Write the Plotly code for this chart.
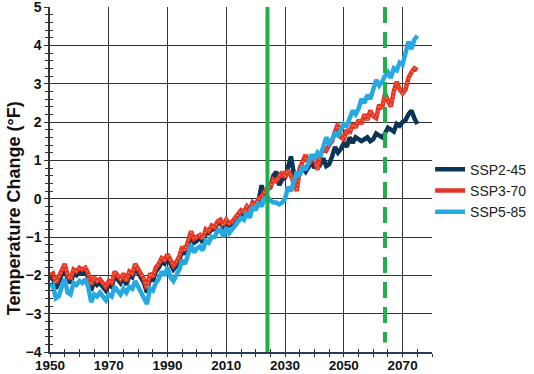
import plotly.graph_objects as go

years = list(range(1950, 2076))

ssp245 = [
    -2.1, -2.05, -2.35, -2.15, -2.0, -1.8, -2.1, -2.2, -1.95, -2.0,
    -1.9, -1.95, -1.9, -2.05, -2.4, -2.15, -2.25, -2.2, -2.3, -2.4,
    -2.25, -2.3, -2.0, -2.1, -2.2, -2.05, -2.25, -2.0, -2.05, -1.8,
    -1.95, -2.05, -2.2, -2.45, -2.05, -2.15, -1.9, -1.8, -1.65, -1.7,
    -1.55, -1.7, -1.85, -1.75, -1.6, -1.35, -1.45, -1.2, -0.95, -1.15,
    -1.1, -1.0, -1.15, -0.9, -0.9, -0.8, -0.8, -0.65, -0.6, -0.8,
    -0.6, -0.7, -0.65, -0.55, -0.45, -0.35, -0.4, -0.2, -0.35, -0.1,
    -0.15, -0.05, 0.35, -0.05, 0.25,
    0.3, 0.6, 0.7, 0.35, 0.5, 0.55, 0.8, 1.1, 0.65, 0.4,
    0.75, 0.8, 0.7, 0.85, 0.95, 0.8, 1.0, 0.9, 1.05, 0.85,
    0.9, 1.1, 1.35, 1.2, 1.3, 1.45, 1.35, 1.6, 1.45, 1.6,
    1.55, 1.5, 1.55, 1.6, 1.5, 1.55, 1.7, 1.65, 1.6, 1.7,
    1.85, 1.8, 1.75, 1.95, 1.9, 2.0, 2.05, 2.2, 2.3, 2.1, 1.95,
]

ssp370 = [
    -2.0, -1.95, -2.2, -2.05, -1.9, -1.7, -2.0, -2.1, -1.85, -1.9,
    -1.8, -1.85, -1.8, -1.95, -2.25, -2.05, -2.15, -2.1, -2.2, -2.3,
    -2.15, -2.2, -1.9, -2.0, -2.1, -1.95, -2.15, -1.9, -1.95, -1.7,
    -1.85, -1.95, -2.1, -2.35, -1.95, -2.05, -1.8, -1.7, -1.55, -1.6,
    -1.45, -1.6, -1.75, -1.65, -1.5, -1.25, -1.35, -1.1, -0.85, -1.05,
    -1.0, -0.95, -1.05, -0.8, -0.85, -0.7, -0.75, -0.6, -0.55, -0.7,
    -0.55, -0.65, -0.6, -0.5, -0.4, -0.3, -0.35, -0.2, -0.3, -0.1,
    -0.15, 0.0, 0.05, 0.2, 0.3,
    0.3, 0.5, 0.45, 0.6, 0.7, 0.55, 0.75, 0.6, 0.35, 0.2,
    0.8, 0.95, 1.15, 0.9, 1.0, 1.1, 0.75, 1.15, 1.3, 1.25,
    1.4, 1.5, 1.75, 1.95, 1.6, 1.55, 1.8, 1.7, 1.95, 1.85,
    2.05, 1.95, 2.2, 2.05, 2.3, 2.15, 2.1, 2.45, 2.35, 2.75,
    2.55, 2.4, 2.8, 3.05, 2.85, 2.75, 2.85, 3.15, 3.3, 3.4, 3.35,
]

ssp585 = [
    -2.3, -2.25, -2.6, -2.55, -2.3, -2.1, -2.45, -2.5, -2.2, -2.25,
    -2.15, -2.2, -2.1, -2.3, -2.7, -2.5, -2.55, -2.45, -2.55, -2.65,
    -2.5, -2.55, -2.3, -2.4, -2.5, -2.35, -2.45, -2.3, -2.35, -2.15,
    -2.3, -2.45, -2.6, -2.75, -2.35, -2.4, -2.2, -2.1, -1.9, -2.0,
    -1.8, -2.05, -2.15, -2.0, -1.85, -1.6, -1.7, -1.45, -1.2, -1.4,
    -1.3, -1.25, -1.35, -1.1, -1.15, -1.0, -1.0, -0.85, -0.8, -1.0,
    -0.75, -0.9, -0.8, -0.7, -0.6, -0.5, -0.55, -0.35, -0.5, -0.2,
    -0.3, -0.1, -0.2, 0.0, 0.05,
    -0.05, -0.1, -0.1, -0.15, -0.1, 0.0, 0.3, 0.2, 0.5, 0.7,
    0.6, 0.85, 0.75, 0.95, 1.15,
    1.05, 1.2, 1.1, 1.35, 1.6, 1.45, 1.55, 1.7, 1.65, 1.8,
    1.95, 1.9, 2.1, 2.3, 2.2, 2.35, 2.6, 2.5, 2.7, 2.6,
    2.85, 3.1, 2.95, 3.05, 3.2, 3.3, 3.15, 3.4, 3.35, 3.55,
    3.5, 3.85, 4.1, 3.9, 4.15, 4.25,
]

series_names = ["SSP2-45", "SSP3-70", "SSP5-85"]
x_tick_vals = [1950, 1970, 1990, 2010, 2030, 2050, 2070]
y_tick_vals = [-4, -3, -2, -1, 0, 1, 2, 3, 4, 5]
marker_years = [2024, 2064]
y_title = "Temperature Change (°F)"

NAVY = "#0b3556"
RED = "#e5332a"
ORANGE = "#f39a3a"
BLUE = "#25a9e0"
GREEN = "#1fb04b"
FONT = "Liberation Sans, Arial, sans-serif"

fig = go.Figure()
fig.add_trace(go.Scatter(x=years, y=ssp245, name=series_names[0], mode="lines",
                         line=dict(color=NAVY, width=4.5)))
fig.add_trace(go.Scatter(x=years, y=ssp370, name=series_names[1], mode="lines",
                         line=dict(color=RED, width=4.5), legendgroup="r"))
fig.add_trace(go.Scatter(x=years, y=ssp370, name=series_names[1], mode="lines",
                         line=dict(color=ORANGE, width=1.6, dash="1px,3px"),
                         legendgroup="r", showlegend=False, hoverinfo="skip"))
fig.add_trace(go.Scatter(x=years, y=ssp585, name=series_names[2], mode="lines",
                         line=dict(color=BLUE, width=4.5)))

# Overlay axes for inward-pointing tick halves (ticks cross the axis line)
fig.add_trace(go.Scatter(x=[1950], y=[-4], xaxis="x2", yaxis="y2",
                         mode="markers", marker=dict(opacity=0),
                         showlegend=False, hoverinfo="skip"))

for i, yr in enumerate(marker_years):
    fig.add_shape(type="line", xref="x", yref="y", x0=yr, x1=yr,
                  y0=5, y1=-4 if i == 0 else -3.75,
                  line=dict(color=GREEN, width=4,
                            dash="solid" if i == 0 else "16px,9px"))

fig.add_annotation(text=y_title, xref="paper", yref="paper", x=-0.094, y=0.417,
                   textangle=-90, showarrow=False, xanchor="center", yanchor="middle",
                   font=dict(size=18, family=FONT, color="#111", weight="bold"))

xr = [1950, 2080]
yr_ = [-4, 5]
fig.update_layout(
    width=534, height=374,
    margin=dict(l=50, r=102, t=7, b=22, autoexpand=False),
    paper_bgcolor="white", plot_bgcolor="white",
    font=dict(family=FONT, color="black"),
    showlegend=True,
    legend=dict(x=0.995, y=0.575, xanchor="left", yanchor="top",
                font=dict(size=14, family=FONT, color="#222"),
                tracegroupgap=0, itemwidth=30, bgcolor="rgba(0,0,0,0)"),
    xaxis=dict(range=xr, tickvals=x_tick_vals, ticks="outside", ticklen=3,
               tickcolor="#333", tickwidth=1, automargin=False,
               ticklabeloverflow="allow", ticklabelstandoff=-3,
               minor=dict(dtick=5, tick0=1950, ticks="outside", ticklen=3,
                          tickcolor="#333", showgrid=False),
               showgrid=True, gridcolor="#333", gridwidth=1,
               showline=True, linecolor="#2a3a5a", linewidth=1.5,
               zeroline=False,
               tickfont=dict(size=13.5, family=FONT, color="#111", weight="bold")),
    yaxis=dict(range=yr_, tickvals=y_tick_vals, ticks="outside", ticklen=4,
               tickcolor="#333", tickwidth=1, automargin=False,
               ticklabeloverflow="allow",
               minor=dict(dtick=0.2, tick0=0, ticks="outside", ticklen=3,
                          tickcolor="#333", showgrid=False),
               showgrid=True, gridcolor="#333", gridwidth=1,
               showline=True, linecolor="#333", linewidth=1.5,
               zeroline=False,
               tickfont=dict(size=14, family=FONT, color="#111", weight="bold")),
    xaxis2=dict(range=xr, overlaying="x", tickvals=x_tick_vals, ticks="inside",
                ticklen=4, tickcolor="#333", showticklabels=False, showgrid=False,
                automargin=False,
                minor=dict(dtick=5, tick0=1950, ticks="inside", ticklen=3,
                           tickcolor="#333"),
                zeroline=False, showline=False),
    yaxis2=dict(range=yr_, overlaying="y", tickvals=y_tick_vals, ticks="inside",
                ticklen=4, tickcolor="#333", showticklabels=False, showgrid=False,
                automargin=False,
                minor=dict(dtick=0.2, tick0=0, ticks="inside", ticklen=3,
                           tickcolor="#333"),
                zeroline=False, showline=False),
)

fig.write_html("out.html", config={"displayModeBar": False},
               post_script="document.body.style.margin='0';document.body.style.overflow='hidden';")
